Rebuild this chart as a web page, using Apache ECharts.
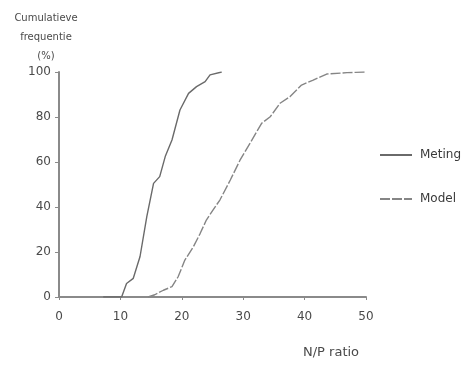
<!DOCTYPE html>
<html>
<head>
<meta charset="utf-8">
<script src="https://cdn.jsdelivr.net/npm/echarts@6/dist/echarts.min.js"></script>
<style>
  html, body { margin: 0; padding: 0; background: #fff; }
  #chart { width: 465px; height: 365px; }
</style>
</head>
<body>
<div id="chart"></div>
<script>
// cumulative frequency of N/P ratio
const metingX = [7.2, 10.2, 11.0, 12.1, 13.2, 14.3, 15.4, 16.4, 17.3, 18.4, 19.7, 21.1, 22.4, 23.8, 24.6, 26.5];
const metingY = [0, 0, 6, 8.3, 18, 35.7, 50.5, 53.5, 62.4, 69.8, 83.1, 90.5, 93.5, 95.7, 98.7, 100];
const modelX = [14.5, 15.6, 17.0, 18.4, 19.4, 20.5, 21.9, 23.0, 24.0, 25.1, 26.2, 27.9, 29.5, 31.1, 33.0, 34.4, 36.0, 37.6, 39.5, 41.4, 43.6, 46.9, 49.8];
const modelY = [0, 1, 3, 4.6, 9, 16.4, 22.4, 28.3, 34.2, 38.7, 43.1, 52, 60.9, 68.3, 77.2, 80.1, 86.1, 89, 94.2, 96.4, 99.1, 99.7, 100];
const seriesNames = ['Meting', 'Model'];

const AXIS = '#8a8a8a';
const LABEL = '#4a4a4a';
const INK = '#3a3a3a';
const FONT = 'DejaVu Sans, sans-serif';

const zip = (xs, ys) => xs.map((x, i) => [x, ys[i]]);

const chart = echarts.init(document.getElementById('chart'), null, { renderer: 'canvas' });
chart.setOption({
  animation: false,
  textStyle: { fontFamily: FONT },
  grid: { left: 59, right: 99, top: 72, bottom: 68 },
  legend: {
    orient: 'vertical',
    left: 374, top: 144,
    itemWidth: 32, itemHeight: 14, itemGap: 32,
    itemStyle: { opacity: 0 },
    textStyle: { color: INK, fontSize: 12, fontFamily: FONT, padding: [0, 0, 0, 3] },
    data: seriesNames,
  },
  xAxis: {
    type: 'value', min: 0, max: 50, interval: 10,
    axisLine: { lineStyle: { color: AXIS, width: 2 } },
    axisTick: { show: true, length: 3, lineStyle: { color: AXIS } },
    axisLabel: { color: LABEL, fontSize: 12, margin: 14 },
    splitLine: { show: false },
  },
  yAxis: {
    type: 'value', min: 0, max: 100, interval: 20,
    axisLine: { show: true, lineStyle: { color: AXIS, width: 2 } },
    axisTick: { show: true, length: 4, lineStyle: { color: AXIS } },
    axisLabel: { color: LABEL, fontSize: 12, margin: 8 },
    splitLine: { show: false },
  },
  series: [
    {
      name: seriesNames[0], type: 'line', data: zip(metingX, metingY),
      symbol: 'none',
      lineStyle: { color: '#6a6a6a', width: 1.4 },
      itemStyle: { color: '#6a6a6a' },
    },
    {
      name: seriesNames[1], type: 'line', data: zip(modelX, modelY),
      symbol: 'none',
      lineStyle: { color: '#858585', width: 1.4, type: [10, 2] },
      itemStyle: { color: '#858585' },
    },
  ],
  graphic: [
    {
      type: 'text', x: 46, y: 9,
      style: {
        text: 'Cumulatieve\nfrequentie\n(%)', align: 'center', lineHeight: 19,
        fill: LABEL, fontSize: 10, fontFamily: FONT,
      },
    },
    {
      type: 'text', x: 303, y: 346,
      style: { text: 'N/P ratio', fill: LABEL, fontSize: 13, fontFamily: FONT },
    },
  ],
});
</script>
</body>
</html>
